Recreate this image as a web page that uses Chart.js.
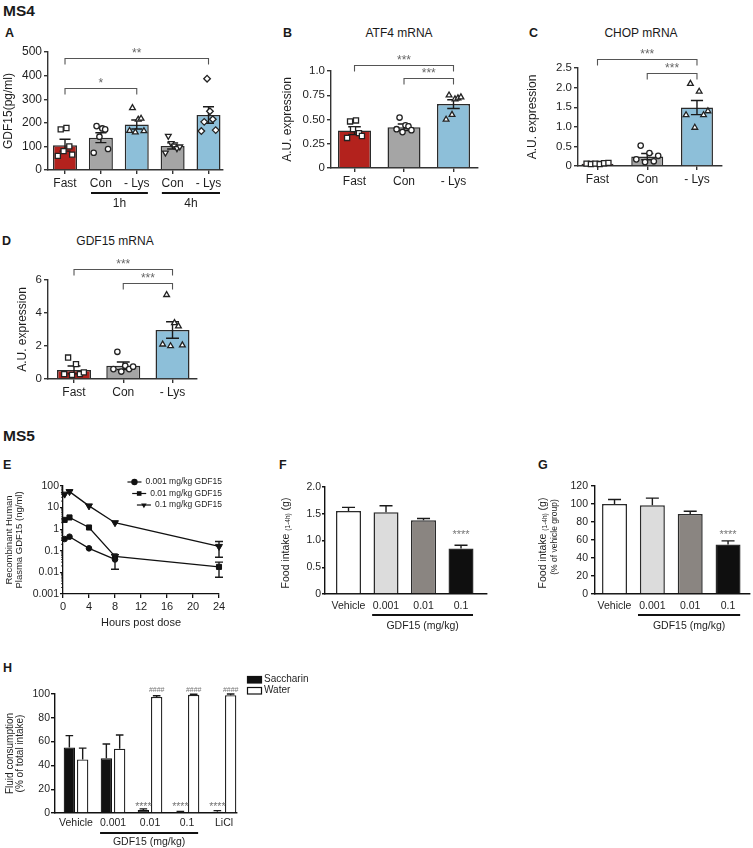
<!DOCTYPE html>
<html>
<head>
<meta charset="utf-8">
<script src="https://cdn.jsdelivr.net/npm/chart.js@4.4.1/dist/chart.umd.min.js"></script>
<style>
  body { margin: 0; background: #fff; }
  #fig { position: relative; width: 753px; height: 848px; overflow: hidden;
         font-family: "Liberation Sans", Arial, sans-serif; color: #1a1a1a; }
  #fig canvas { position: absolute; }
  .lbl { position: absolute; font-weight: bold; line-height: 1; white-space: nowrap; }
  .ttl { position: absolute; font-size: 12px; line-height: 1; white-space: nowrap; transform: translateX(-50%); }
</style>
</head>
<body>
<div id="fig">
  <div class="lbl" style="left:3px;top:3px;font-size:15.5px">MS4</div>
  <div class="lbl" style="left:5px;top:27px;font-size:12.5px">A</div>
  <div class="lbl" style="left:283px;top:27px;font-size:12.5px">B</div>
  <div class="ttl" style="left:399px;top:27px">ATF4 mRNA</div>
  <div class="lbl" style="left:529px;top:27px;font-size:12.5px">C</div>
  <div class="ttl" style="left:641px;top:27px">CHOP mRNA</div>
  <div class="lbl" style="left:2px;top:235px;font-size:12.5px">D</div>
  <div class="ttl" style="left:115px;top:235px">GDF15 mRNA</div>
  <div class="lbl" style="left:3px;top:428px;font-size:15.5px">MS5</div>
  <div class="lbl" style="left:3px;top:459px;font-size:12.5px">E</div>
  <div class="lbl" style="left:279px;top:459px;font-size:12.5px">F</div>
  <div class="lbl" style="left:538px;top:459px;font-size:12.5px">G</div>
  <div class="lbl" style="left:3px;top:662px;font-size:12.5px">H</div>
</div>
<script>
// ---- A: plasma GDF15 ----
const catsA = ['Fast', 'Con', '- Lys', 'Con', '- Lys'];
const meansA = [105, 137, 193, 102, 233];
const semA = [25, 21, 19, 13, 35];
const ptsA = [
  [60, 172, 80, 178, 100, 65],
  [73, 186, 141, 176, 172, 89],
  [166, 263, 160, 214, 218, 165],
  [73, 144, 113, 103, 92, 99],
  [165, 204, 387, 249, 215, 169]
];
const yTicksA = ['0', '100', '200', '300', '400', '500'];

// ---- B: ATF4 mRNA ----
const catsB = ['Fast', 'Con', '- Lys'];
const meansB = [0.386, 0.42, 0.659];
const semB = [0.04, 0.034, 0.045];
const ptsB = [
  [0.31, 0.48, 0.40, 0.49, 0.36, 0.33],
  [0.40, 0.52, 0.37, 0.44, 0.43, 0.39],
  [0.50, 0.75, 0.55, 0.71, 0.72, 0.73]
];
const yTicksB = ['0', '0.25', '0.50', '0.75', '1.0'];

// ---- C: CHOP mRNA ----
const meansC = [0.06, 0.24, 1.49];
const semC = [0.01, 0.08, 0.18];
const ptsC = [
  [0.06, 0.05, 0.06, 0.05, 0.07, 0.08],
  [0.17, 0.52, 0.10, 0.33, 0.12, 0.26],
  [1.3, 2.1, 0.98, 1.9, 1.3, 1.4]
];
const yTicksC = ['0', '0.5', '1.0', '1.5', '2.0', '2.5'];

// ---- D: GDF15 mRNA ----
const meansD = [0.55, 0.8, 2.97];
const semD = [0.24, 0.23, 0.5];
const ptsD = [
  [0.3, 1.3, 0.25, 0.9, 0.3, 0.4],
  [0.6, 1.65, 0.45, 0.8, 0.6, 0.75],
  [2.1, 5.1, 2.0, 3.4, 3.2, 2.05]
];
const yTicksD = ['0', '2', '4', '6'];

// ---- E: PK ----
const hoursE = [0.25, 1, 4, 8, 24];
const lowE = [0.35, 0.45, 0.13, 0.04, null];
const midE = [2.7, 3.5, 1.2, 0.055, 0.018];
const highE = [42, 55, 12, 2, 0.16];
const errLowE = [0, 0, 0, 0.026, 0];
const errMidE = [0, 0, 0, 0, 0.012];
const errHighE = [0, 0, 0, 0, 0.11];
const xTicksE = ['0', '4', '8', '12', '16', '20', '24'];
const yTicksE = ['0.001', '0.01', '0.1', '1', '10', '100'];

// ---- F / G: food intake ----
const catsF = ['Vehicle', '0.001', '0.01', '0.1'];
const meansF = [1.55, 1.53, 1.38, 0.85];
const semF = [0.07, 0.12, 0.03, 0.06];
const yTicksF = ['0', '0.5', '1.0', '1.5', '2.0'];
const meansG = [100, 98.5, 89, 55];
const semG = [5, 8, 3, 4];
const yTicksG = ['0', '20', '40', '60', '80', '100', '120'];

// ---- H: two-bottle preference ----
const catsH = ['Vehicle', '0.001', '0.01', '0.1', 'LiCl'];
const saccH = [55, 46, 2.5, 0.7, 1.0];
const saccErrH = [10, 12, 1, 0.5, 1];
const waterH = [45, 54, 97.5, 99.3, 99];
const waterErrH = [9.5, 11.5, 1, 0.5, 1];
const yTicksH = ['0', '20', '40', '60', '80', '100'];

const FONT = '"Liberation Sans", Arial, sans-serif';
Chart.defaults.font.family = FONT;
Chart.defaults.color = '#1e1e1e';
Chart.defaults.animation = false;
Chart.defaults.plugins.legend.display = false;
Chart.defaults.plugins.tooltip.enabled = false;

const RED = '#b3221d', GREY = '#a5a5a5', BLUE = '#8dbfd9';
const JIT = [-1, -0.6, -0.2, 0.2, 0.6, 1];
const RADIUS = { rect: 3.6, circle: 2.7, triangle: 3.3, triDown: 3.3, rectRot: 3.3 };

function mkCanvas(area, pad) {
  const w = area.r - area.l + pad.L + pad.R, h = area.b - area.t + pad.T + pad.B;
  const c = document.createElement('canvas');
  c.width = w; c.height = h;
  c.style.left = (area.l - pad.L) + 'px';
  c.style.top = (area.t - pad.T) + 'px';
  c.style.width = w + 'px';
  c.style.height = h + 'px';
  document.getElementById('fig').appendChild(c);
  return c;
}

function yScale(o) {
  return {
    type: o.log ? 'logarithmic' : 'linear',
    min: o.min, max: o.max,
    afterFit: s => { s.width = o.L; },
    afterBuildTicks: s => { s.ticks = o.labels.map(t => ({ value: parseFloat(t) })); },
    ticks: { callback: (v, i) => o.labels[i], autoSkip: false, font: { size: o.fs }, padding: o.tpad },
    grid: { drawOnChartArea: false, tickLength: o.tl, color: o.axis, lineWidth: o.lw },
    border: { color: o.axis, width: o.lw },
    title: o.title
      ? { display: true, text: o.title, font: { size: o.tfs, lineHeight: o.tlh || 1.2 }, padding: { top: o.tp, bottom: 0 } }
      : { display: false }
  };
}

function xScale(o) {
  return {
    type: 'linear', min: o.min, max: o.max, offset: false,
    afterFit: s => { s.height = o.B; },
    afterBuildTicks: s => { s.ticks = o.cats.map((c, i) => ({ value: i })); },
    ticks: { callback: (v, i) => o.cats[i], autoSkip: false, maxRotation: 0, font: { size: o.fs }, padding: o.tpad },
    grid: { drawOnChartArea: false, offset: false, drawTicks: o.tl > 0, tickLength: o.tl, color: o.axis, lineWidth: o.lw },
    border: { color: o.axis, width: o.lw }
  };
}

// error bars, drawn right after their own dataset
const errPlugin = {
  id: 'errbars',
  afterDatasetDraw(chart, args) {
    const ds = chart.data.datasets[args.index];
    if (!ds.err) return;
    const ctx = chart.ctx, ys = chart.scales.y;
    ctx.save();
    ctx.strokeStyle = '#1a1a1a';
    ctx.lineWidth = 1.4;
    args.meta.data.forEach((el, i) => {
      const e = ds.err[i], v = ds.data[i].y;
      if (!e || v == null) return;
      const hi = ys.getPixelForValue(v + e);
      const lo = ds.errMode === 'up' ? el.y : ys.getPixelForValue(v - e);
      const cw = ds.capW || el.width * (ds.capRatio || 0.2);
      ctx.beginPath();
      ctx.moveTo(el.x, lo); ctx.lineTo(el.x, hi);
      ctx.moveTo(el.x - cw, hi); ctx.lineTo(el.x + cw, hi);
      if (ds.errMode !== 'up') { ctx.moveTo(el.x - cw, lo); ctx.lineTo(el.x + cw, lo); }
      ctx.stroke();
    });
    ctx.restore();
  }
};

// significance brackets, group underlines and star marks
function annot(cfg) {
  return {
    id: 'annot',
    afterDraw(chart) {
      const ctx = chart.ctx, xs = chart.scales.x, ys = chart.scales.y, bottom = chart.chartArea.bottom;
      ctx.save();
      ctx.textAlign = 'center';
      (cfg.brackets || []).forEach(b => {
        const x1 = xs.getPixelForValue(b.from), x2 = xs.getPixelForValue(b.to);
        const y = Math.round(ys.getPixelForValue(b.y)) + 0.5;
        ctx.strokeStyle = '#555'; ctx.lineWidth = 1.1;
        ctx.beginPath();
        ctx.moveTo(x1, y + 6); ctx.lineTo(x1, y); ctx.lineTo(x2, y); ctx.lineTo(x2, y + 6);
        ctx.stroke();
        ctx.fillStyle = '#666'; ctx.font = '12px ' + FONT; ctx.textBaseline = 'alphabetic';
        ctx.fillText(b.text, (x1 + x2) / 2, y - 1.5);
      });
      (cfg.groups || []).forEach(g => {
        const x1 = xs.getPixelForValue(g.from), x2 = xs.getPixelForValue(g.to);
        ctx.strokeStyle = '#111'; ctx.lineWidth = 2;
        ctx.beginPath();
        ctx.moveTo(x1, bottom + cfg.lineOff); ctx.lineTo(x2, bottom + cfg.lineOff);
        ctx.stroke();
        ctx.fillStyle = '#1e1e1e'; ctx.font = cfg.groupFont + ' ' + FONT; ctx.textBaseline = 'middle';
        ctx.fillText(g.text, (x1 + x2) / 2, bottom + cfg.textOff);
      });
      (cfg.marks || []).forEach(m => {
        const el = chart.getDatasetMeta(m.ds).data[m.i];
        ctx.fillStyle = '#777'; ctx.font = m.size + ' ' + FONT; ctx.textBaseline = 'alphabetic';
        ctx.fillText(m.text, el.x, ys.getPixelForValue(m.y));
      });
      ctx.restore();
    }
  };
}

function barPanel(o) {
  const datasets = [{
    type: 'bar', order: 2,
    data: o.means.map((v, i) => ({ x: i, y: v })),
    backgroundColor: o.colors, borderColor: '#2b2b2b', borderWidth: 1.5,
    categoryPercentage: 1, barPercentage: o.barPct,
    err: o.sem, errMode: o.errMode, capRatio: o.capRatio
  }];
  (o.pts || []).forEach((grp, g) => {
    const sh = o.shapes[g];
    datasets.push({
      type: 'scatter', order: 1, clip: false,
      data: grp.map((v, k) => ({ x: g + JIT[k] * o.jit, y: v })),
      pointStyle: sh === 'triDown' ? 'triangle' : sh,
      pointRotation: sh === 'triDown' ? 180 : 0,
      pointRadius: RADIUS[sh],
      pointBackgroundColor: '#fff', pointBorderColor: '#222', pointBorderWidth: 1.3
    });
  });
  return new Chart(mkCanvas(o.area, o.pad), {
    type: 'bar',
    data: { datasets },
    options: {
      responsive: false,
      layout: { padding: { top: o.pad.T, right: o.pad.R, left: 0, bottom: 0 } },
      scales: { x: xScale(o.x), y: yScale(o.y) }
    },
    plugins: [errPlugin, annot(o.annot || {})].concat(o.extra || [])
  });
}

// MS4 common axis styling
const ax4 = { axis: '#333', lw: 1.4, tl: 4, tpad: 2 };

barPanel({
  area: { l: 48, t: 52, r: 223, b: 170 }, pad: { L: 48, T: 52, R: 12, B: 50 },
  means: meansA, sem: semA, pts: ptsA, jit: 0.2, barPct: 0.669, errMode: 'both', capRatio: 0.23,
  colors: [RED, GREY, BLUE, GREY, BLUE], shapes: ['rect', 'circle', 'triangle', 'triDown', 'rectRot'],
  x: { ...ax4, min: -0.474, max: 4.404, cats: catsA, fs: 12, B: 50 },
  y: { ...ax4, min: 0, max: 500, labels: yTicksA, fs: 12, L: 48, title: 'GDF15(pg/ml)', tfs: 12, tp: 1 },
  annot: {
    brackets: [{ from: 0, to: 4, y: 475, text: '**' }, { from: 0, to: 2, y: 347, text: '*' }],
    groups: [{ from: 0.725, to: 2.31, text: '1h' }, { from: 2.7, to: 4.32, text: '4h' }],
    lineOff: 23, textOff: 34, groupFont: '12px'
  }
});

barPanel({
  area: { l: 331, t: 71, r: 478, b: 168 }, pad: { L: 55, T: 30, R: 10, B: 25 },
  means: meansB, sem: semB, pts: ptsB, jit: 0.15, barPct: 0.667, errMode: 'both', capRatio: 0.19,
  colors: [RED, GREY, BLUE], shapes: ['rect', 'circle', 'triangle'],
  x: { ...ax4, min: -0.475, max: 2.495, cats: catsB, fs: 12, B: 25 },
  y: { ...ax4, min: 0, max: 1, labels: yTicksB, fs: 11.5, L: 55, title: 'A.U. expression', tfs: 12, tp: 4 },
  annot: { brackets: [{ from: 0, to: 2, y: 1.06, text: '***' }, { from: 1, to: 2, y: 0.93, text: '***' }] }
});

barPanel({
  area: { l: 578, t: 68, r: 722, b: 166 }, pad: { L: 58, T: 30, R: 10, B: 25 },
  means: meansC, sem: semC, pts: ptsC, jit: 0.22, barPct: 0.643, errMode: 'both', capRatio: 0.19,
  colors: [RED, GREY, BLUE], shapes: ['rect', 'circle', 'triangle'],
  x: { ...ax4, min: -0.392, max: 2.503, cats: catsB, fs: 12, B: 25 },
  y: { ...ax4, min: 0, max: 2.5, labels: yTicksC, fs: 11.5, L: 58, title: 'A.U. expression', tfs: 12, tp: 5 },
  annot: { brackets: [{ from: 0, to: 2, y: 2.73, text: '***' }, { from: 1, to: 2, y: 2.37, text: '***' }] }
});

barPanel({
  area: { l: 48, t: 280, r: 197, b: 379 }, pad: { L: 48, T: 30, R: 10, B: 25 },
  means: meansD, sem: semD, pts: ptsD, jit: 0.2, barPct: 0.69, errMode: 'both', capRatio: 0.19,
  colors: [RED, GREY, BLUE], shapes: ['rect', 'circle', 'triangle'],
  x: { ...ax4, min: -0.528, max: 2.497, cats: catsB, fs: 12, B: 25 },
  y: { ...ax4, min: 0, max: 6, labels: yTicksD, fs: 11.5, L: 48, title: 'A.U. expression', tfs: 12, tp: 15 },
  annot: { brackets: [{ from: 0, to: 2, y: 6.67, text: '***' }, { from: 1, to: 2, y: 5.82, text: '***' }] }
});

// ---- E ----
function marker(ctx, style, rot, x, y, r) {
  ctx.beginPath();
  if (style === 'circle') ctx.arc(x, y, r, 0, Math.PI * 2);
  else if (style === 'rect') ctx.rect(x - r * 0.72, y - r * 0.72, r * 1.44, r * 1.44);
  else { const s = rot ? 1 : -1; ctx.moveTo(x - r * 0.87, y - s * r * 0.5); ctx.lineTo(x + r * 0.87, y - s * r * 0.5); ctx.lineTo(x, y + s * r); ctx.closePath(); }
  ctx.fill();
}

const legendE = {
  id: 'legendE',
  afterDraw(chart) {
    const ctx = chart.ctx;
    ctx.save();
    ctx.font = '8.5px ' + FONT; ctx.textAlign = 'right'; ctx.textBaseline = 'middle';
    chart.data.datasets.forEach((ds, i) => {
      const y = 8 + i * 11.5, xr = 222;
      ctx.fillStyle = '#1e1e1e';
      ctx.fillText(ds.label, xr, y);
      const x0 = xr - ctx.measureText(ds.label).width - 4;
      ctx.strokeStyle = '#111'; ctx.lineWidth = 1.2;
      ctx.beginPath(); ctx.moveTo(x0 - 14, y); ctx.lineTo(x0, y); ctx.stroke();
      ctx.fillStyle = '#111';
      marker(ctx, ds.pointStyle, ds.pointRotation, x0 - 7, y, 3.2);
    });
    ctx.restore();
  }
};

const minorE = {
  id: 'minorE',
  afterDraw(chart) {
    const ctx = chart.ctx, ys = chart.scales.y, x = chart.chartArea.left;
    ctx.save();
    ctx.strokeStyle = '#111'; ctx.lineWidth = 0.8;
    ctx.beginPath();
    for (let e = -3; e <= 1; e++) {
      for (let m = 2; m <= 9; m++) {
        const y = ys.getPixelForValue(m * Math.pow(10, e));
        ctx.moveTo(x - 2, y); ctx.lineTo(x, y);
      }
    }
    ctx.stroke();
    ctx.restore();
  }
};

function mkLine(vals, errs, label, style, rot, r) {
  return {
    label, data: hoursE.map((h, i) => ({ x: h, y: vals[i] })), err: errs, errMode: 'both', capW: 4,
    borderColor: '#111', borderWidth: 1.3, pointStyle: style, pointRotation: rot, pointRadius: r,
    pointBackgroundColor: '#111', pointBorderColor: '#111', pointBorderWidth: 1, clip: false, tension: 0
  };
}

new Chart(mkCanvas({ l: 63, t: 486, r: 219, b: 594 }, { L: 63, T: 12, R: 30, B: 40 }), {
  type: 'line',
  data: {
    datasets: [
      mkLine(lowE, errLowE, '0.001 mg/kg GDF15', 'circle', 0, 2.8),
      mkLine(midE, errMidE, '0.01 mg/kg GDF15', 'rect', 0, 3.6),
      mkLine(highE, errHighE, '0.1 mg/kg GDF15', 'triangle', 180, 4)
    ]
  },
  options: {
    responsive: false,
    layout: { padding: { top: 12, right: 30, left: 0, bottom: 0 } },
    scales: {
      x: {
        type: 'linear', min: 0, max: 24,
        afterFit: s => { s.height = 40; },
        afterBuildTicks: s => { s.ticks = xTicksE.map(t => ({ value: +t })); },
        ticks: { callback: (v, i) => xTicksE[i], autoSkip: false, maxRotation: 0, font: { size: 11 }, padding: 2 },
        grid: { drawOnChartArea: false, tickLength: 4, color: '#111', lineWidth: 1.3 },
        border: { color: '#111', width: 1.3 },
        title: { display: true, text: 'Hours post dose', font: { size: 11 }, padding: { top: 0, bottom: 4 } }
      },
      y: yScale({
        log: true, min: 0.001, max: 100, L: 63, labels: yTicksE, fs: 10.5, tpad: 1, tl: 3, axis: '#111', lw: 1.3,
        title: ['Recombinant Human', 'Plasma GDF15 (ng/ml)'], tfs: 9.5, tlh: 1, tp: 5
      })
    }
  },
  plugins: [errPlugin, minorE, legendE]
});

// ---- F / G ----
function foodTitle(xc, dy, second) {
  return {
    id: 'foodTitle',
    afterDraw(chart) {
      const ctx = chart.ctx, ca = chart.chartArea;
      ctx.save();
      ctx.translate(xc, (ca.top + ca.bottom) / 2 + dy);
      ctx.rotate(-Math.PI / 2);
      ctx.fillStyle = '#1e1e1e'; ctx.textBaseline = 'middle'; ctx.textAlign = 'left';
      const big = '10.5px ' + FONT, small = '6.5px ' + FONT;
      const parts = [['Food intake ', big, 0], ['(1-4h)', small, 2.5], [' (g)', big, 0]];
      let total = 0;
      parts.forEach(p => { ctx.font = p[1]; p.w = ctx.measureText(p[0]).width; total += p.w; });
      let x = -total / 2;
      parts.forEach(p => { ctx.font = p[1]; ctx.fillText(p[0], x, p[2]); x += p.w; });
      if (second) {
        ctx.font = '8.5px ' + FONT; ctx.textAlign = 'center';
        ctx.fillText(second, 6, 12);
      }
      ctx.restore();
    }
  };
}

const ax5 = { axis: '#111', lw: 1.4 };
const colorsF = ['#ffffff', '#dcdcdc', '#8a8581', '#0f0f0f'];

barPanel({
  area: { l: 325, t: 487, r: 487, b: 594 }, pad: { L: 50, T: 25, R: 10, B: 45 },
  means: meansF, sem: semF, barPct: 0.667, errMode: 'up', capRatio: 0.26, colors: colorsF,
  x: { ...ax5, min: -0.627, max: 3.693, cats: catsF, fs: 10.5, tl: 0, tpad: 6, B: 45 },
  y: { ...ax5, min: 0, max: 2, labels: yTicksF, fs: 10.5, tl: 3, tpad: 1, L: 50 },
  annot: {
    marks: [{ ds: 0, i: 3, y: 1.05, text: '****', size: '11px' }],
    groups: [{ from: 0.63, to: 3.32, text: 'GDF15 (mg/kg)' }],
    lineOff: 21, textOff: 32, groupFont: '10.5px'
  },
  extra: [foodTitle(11, 2.5, null)]
});

barPanel({
  area: { l: 595, t: 486, r: 750, b: 594 }, pad: { L: 60, T: 25, R: 3, B: 45 },
  means: meansG, sem: semG, barPct: 0.66, errMode: 'up', capRatio: 0.26, colors: colorsF,
  x: { ...ax5, min: -0.516, max: 3.58, cats: catsF, fs: 10.5, tl: 0, tpad: 6, B: 45 },
  y: { ...ax5, min: 0, max: 120, labels: yTicksG, fs: 10.5, tl: 4, tpad: 3, L: 60 },
  annot: {
    marks: [{ ds: 0, i: 3, y: 62.4, text: '****', size: '11px' }],
    groups: [{ from: 0.62, to: 3.32, text: 'GDF15 (mg/kg)' }],
    lineOff: 21, textOff: 32, groupFont: '10.5px'
  },
  extra: [foodTitle(8, 3, '(% of vehicle group)')]
});

// ---- H ----
const legendH = {
  id: 'legendH',
  afterDraw(chart) {
    const ctx = chart.ctx;
    ctx.save();
    ctx.font = '10px ' + FONT; ctx.textAlign = 'left'; ctx.textBaseline = 'middle';
    chart.data.datasets.forEach((ds, i) => {
      const y = 12 + i * 11;
      ctx.fillStyle = ds.backgroundColor;
      ctx.strokeStyle = '#111'; ctx.lineWidth = 1.2;
      ctx.fillRect(247.5, y + 0.5, 14, 6.5);
      ctx.strokeRect(247.5, y + 0.5, 14, 6.5);
      ctx.fillStyle = '#1e1e1e';
      ctx.fillText(ds.label, 264, y + 3.5);
    });
    ctx.restore();
  }
};

new Chart(mkCanvas({ l: 55, t: 694, r: 237, b: 813 }, { L: 55, T: 30, R: 80, B: 35 }), {
  type: 'bar',
  data: {
    datasets: [
      {
        label: 'Saccharin', data: saccH.map((v, i) => ({ x: i, y: v })),
        backgroundColor: '#111111', borderColor: '#111', borderWidth: 1.2,
        categoryPercentage: 0.72, barPercentage: 0.85, err: saccErrH, errMode: 'up', capW: 3.8
      },
      {
        label: 'Water', data: waterH.map((v, i) => ({ x: i, y: v })),
        backgroundColor: '#ffffff', borderColor: '#222', borderWidth: 1.3,
        categoryPercentage: 0.72, barPercentage: 0.85, err: waterErrH, errMode: 'up', capW: 3.8
      }
    ]
  },
  options: {
    responsive: false,
    layout: { padding: { top: 30, right: 80, left: 0, bottom: 0 } },
    scales: {
      x: xScale({ ...ax5, min: -0.568, max: 4.351, cats: catsH, fs: 10.5, tl: 0, tpad: 4, B: 35 }),
      y: yScale({
        ...ax5, min: 0, max: 100, labels: yTicksH, fs: 10.5, tl: 4, tpad: 1, L: 55,
        title: ['Fluid consumption', '(% of total intake)'], tfs: 10, tlh: 1, tp: 5
      })
    }
  },
  plugins: [errPlugin, legendH, annot({
    marks: [
      { ds: 0, i: 2, y: 2.5, text: '****', size: '10.5px' },
      { ds: 0, i: 3, y: 2.5, text: '****', size: '10.5px' },
      { ds: 0, i: 4, y: 2.5, text: '****', size: '10.5px' },
      { ds: 1, i: 2, y: 101.7, text: '####', size: '7px' },
      { ds: 1, i: 3, y: 101.7, text: '####', size: '7px' },
      { ds: 1, i: 4, y: 101.7, text: '####', size: '7px' }
    ],
    groups: [{ from: 0.65, to: 3.3, text: 'GDF15 (mg/kg)' }],
    lineOff: 20, textOff: 29, groupFont: '10.5px'
  })]
});
</script>
</body>
</html>
